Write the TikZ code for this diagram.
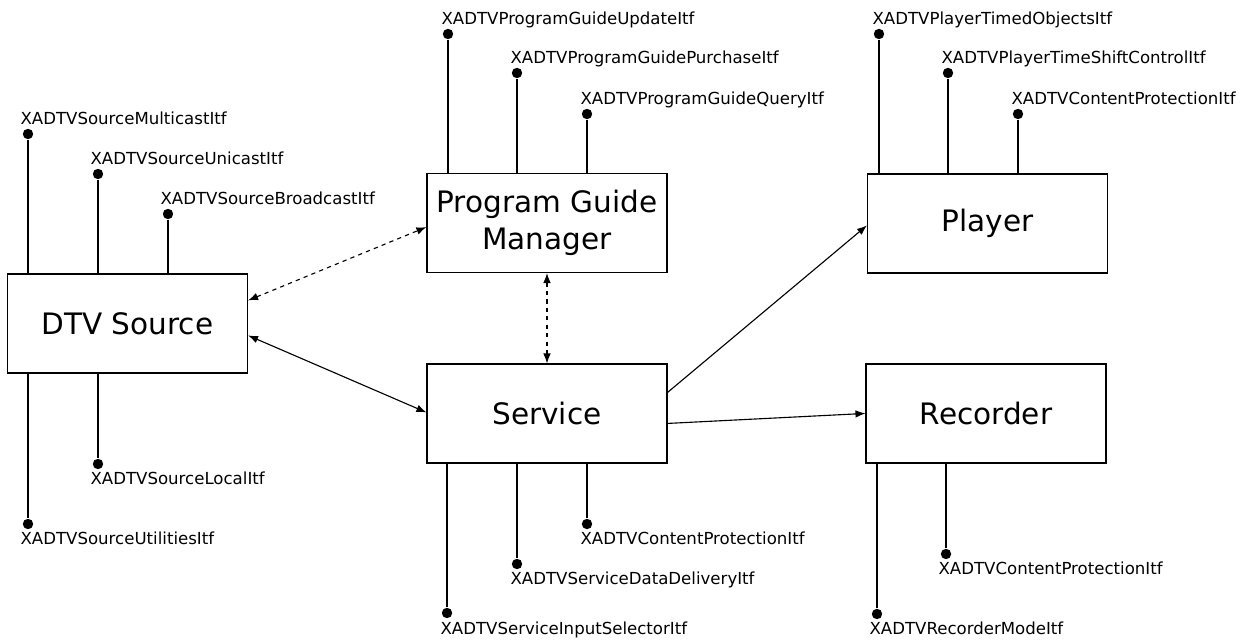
\documentclass[tikz,border=0pt]{standalone}
\usepackage{fontspec}
\setmainfont{DejaVu Sans}
\usetikzlibrary{calc,arrows.meta}

\begin{document}
\begin{tikzpicture}[x=0.25mm, y=-0.25mm, line width=0.8pt, >={Latex[length=2.5mm,width=1.9mm]},
    box/.style={draw, minimum width=60mm, minimum height=24.75mm, align=center,
        font=\fontsize{21}{26}\selectfont},
    dot/.style={circle, fill, inner sep=0pt, minimum size=2.6mm},
    itf/.style={font=\fontsize{11.8}{13}\selectfont, inner sep=0pt, anchor=base west}]
        \useasboundingbox (0,0) rectangle (1259,640);

        % Boxes.
        \node[box] (src) at (127.5,323.5) {DTV Source};
        \node[box] (pgm) at (547,223) {Program Guide\\Manager};
        \node[box] (svc) at (547,413.5) {Service};
        \node[box] (ply) at (987.5,223.5) {Player};
        \node[box] (rec) at (986,413.5) {Recorder};

        % Source interfaces.
        \node[dot] (srcA) at (28,134) {};
        \node[dot] (srcB) at (98,174) {};
        \node[dot] (srcC) at (168,214) {};
        \node[dot] (srcD) at (98,464) {};
        \node[dot] (srcE) at (28,524) {};
        \draw (srcA) -- (srcA |- src.north);
        \draw (srcB) -- (srcB |- src.north);
        \draw (srcC) -- (srcC |- src.north);
        \draw (srcD) -- (srcD |- src.south);
        \draw (srcE) -- (srcE |- src.south);
        \node[itf] (srcAt) at ($(srcA)+(-8,-9)$) {XADTVSourceMulticastItf};
        \node[itf] (srcBt) at ($(srcB)+(-8,-9)$) {XADTVSourceUnicastItf};
        \node[itf] (srcCt) at ($(srcC)+(-8,-9)$) {XADTVSourceBroadcastItf};
        \node[itf] (srcDt) at ($(srcD)+(-8,21)$) {XADTVSourceLocalItf};
        \node[itf] (srcEt) at ($(srcE)+(-8,21)$) {XADTVSourceUtilitiesItf};

        % Program guide interfaces.
        \node[dot] (pgmA) at (448,34) {};
        \node[dot] (pgmB) at (517,73) {};
        \node[dot] (pgmC) at (587,114) {};
        \draw (pgmA) -- (pgmA |- pgm.north);
        \draw (pgmB) -- (pgmB |- pgm.north);
        \draw (pgmC) -- (pgmC |- pgm.north);
        \node[itf] (pgmAt) at ($(pgmA)+(-7,-9)$) {XADTVProgramGuideUpdateItf};
        \node[itf] (pgmBt) at ($(pgmB)+(-7,-9)$) {XADTVProgramGuidePurchaseItf};
        \node[itf] (pgmCt) at ($(pgmC)+(-7,-9)$) {XADTVProgramGuideQueryItf};

        % Service interfaces.
        \node[dot] (svcA) at (447,613) {};
        \node[dot] (svcB) at (517,564) {};
        \node[dot] (svcC) at (587,524) {};
        \draw (svcA) -- (svcA |- svc.south);
        \draw (svcB) -- (svcB |- svc.south);
        \draw (svcC) -- (svcC |- svc.south);
        \node[itf] (svcAt) at ($(svcA)+(-7,21)$) {XADTVServiceInputSelectorItf};
        \node[itf] (svcBt) at ($(svcB)+(-7,21)$) {XADTVServiceDataDeliveryItf};
        \node[itf] (svcCt) at ($(svcC)+(-7,21)$) {XADTVContentProtectionItf};

        % Player interfaces.
        \node[dot] (plyA) at (879,34) {};
        \node[dot] (plyB) at (948,73) {};
        \node[dot] (plyC) at (1018,114) {};
        \draw (plyA) -- (plyA |- ply.north);
        \draw (plyB) -- (plyB |- ply.north);
        \draw (plyC) -- (plyC |- ply.north);
        \node[itf] (plyAt) at ($(plyA)+(-7,-9)$) {XADTVPlayerTimedObjectsItf};
        \node[itf] (plyBt) at ($(plyB)+(-7,-9)$) {XADTVPlayerTimeShiftControlItf};
        \node[itf] (plyCt) at ($(plyC)+(-7,-9)$) {XADTVContentProtectionItf};

        % Recorder interfaces.
        \node[dot] (recA) at (877,614) {};
        \node[dot] (recB) at (946,554) {};
        \draw (recA) -- (recA |- rec.south);
        \draw (recB) -- (recB |- rec.south);
        \node[itf] (recAt) at ($(recA)+(-8,21)$) {XADTVRecorderModeItf};
        \node[itf] (recBt) at ($(recB)+(-8,21)$) {XADTVContentProtectionItf};

        % Links.
        \draw[dashed, <->] ($(src.north east)+(0,27)$) -- ($(pgm.south west)+(0,-46)$);
        \draw[<->] ($(src.north east)+(0,62)$) -- ($(svc.north west)+(0,49)$);
        \draw[dashed, <->] (pgm.south) -- (svc.north);
        \draw[->] ($(svc.north east)+(0,29)$) -- ($(ply.north west)+(0,52)$);
        \draw[->] ($(svc.north east)+(0,60)$) -- ($(rec.north west)+(0,50)$);
\end{tikzpicture}
\end{document}
